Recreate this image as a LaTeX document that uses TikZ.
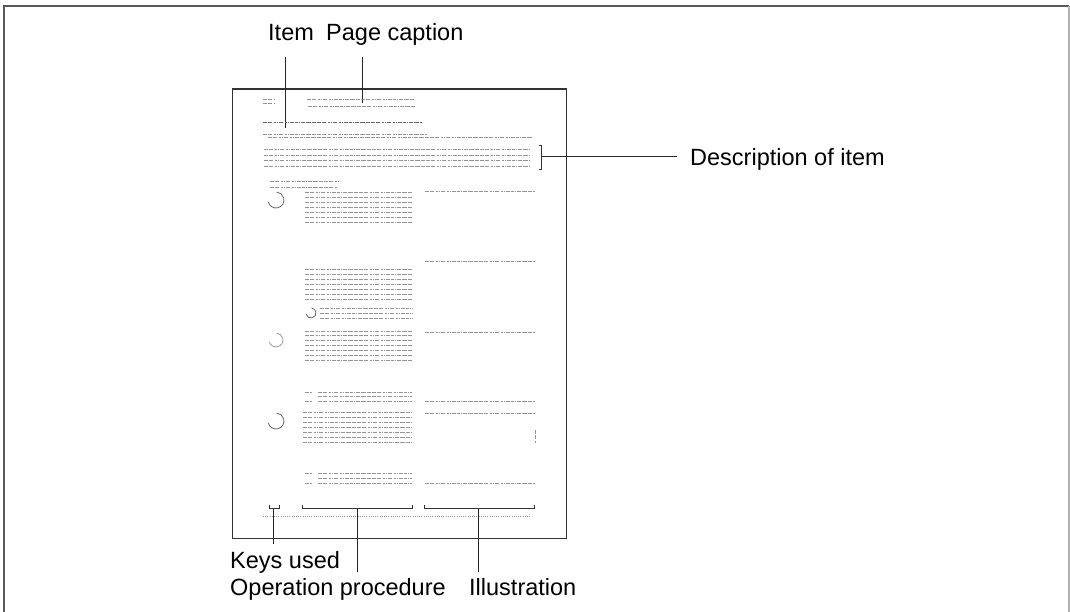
\documentclass[tikz,border=0pt]{standalone}
\usepackage{fontspec}
\setmainfont{Liberation Sans}
\begin{document}
\begin{tikzpicture}[x=1pt,y=-1pt,
  lbl/.style={anchor=base west,inner sep=0pt,font=\fontsize{23.5}{28}\selectfont},
  leader/.style={line width=1pt,black!85},
  pageframe/.style={draw,line width=1.4pt,black!80},
  frame/.style={line width=1.6pt,black!65},
  greek/.style={black!42,line width=0.9pt,dash pattern=on 2.5pt off 0.7pt on 1.2pt off 0.9pt on 4pt off 1.5pt},
  greekdark/.style={greek,black!60},
  brk/.style={line width=1pt,black!80},
  keyarc/.style={line width=0.8pt,black!60}]
\useasboundingbox (0,0) rectangle (1070,612);
% outer frame
\draw[frame] (4,612) -- (4,6) -- (1069,6);
\draw[frame,black!30] (1069,6) -- (1069,612);
% page
\node[pageframe,anchor=north west,minimum width=334,minimum height=449.5,inner sep=0pt] (page) at (232,88.5) {};
% labels
\node[lbl] (item) at (268,41) {Item};
\node[lbl] (caption) at (326,41) {Page caption};
\node[lbl] (desc) at (690,166) {Description of item};
\node[lbl] (keys) at (230,568) {Keys used};
\node[lbl] (oper) at (230,595) {Operation procedure};
\node[lbl] (illus) at (469,595) {Illustration};
% leader coordinates
\coordinate (itemA) at (285.5,57);   \coordinate (itemB) at (285.5,128);
\coordinate (capA) at (362,57);      \coordinate (capB) at (362,103);
\coordinate (descA) at (541.5,157);  \coordinate (descB) at (677,157);
\coordinate (keysA) at (273.5,508);  \coordinate (keysB) at (273.5,544);
\coordinate (operA) at (357,508);    \coordinate (operB) at (357,572);
\coordinate (illA) at (478.5,508);   \coordinate (illB) at (478.5,572);
\draw[leader] (itemA) -- (itemB);
\draw[leader] (capA) -- (capB);
\draw[leader] (descA) -- (descB);
\draw[leader] (keysA) -- (keysB);
\draw[leader] (operA) -- (operB);
\draw[leader] (illA) -- (illB);
% brackets
\draw[brk] (538.5,146) -- (541.5,146) -- (541.5,170) -- (538.5,170);
\draw[brk] (269,505) -- (269,508) -- (279,508) -- (279,505);
\draw[brk] (302,505) -- (302,508) -- (412,508) -- (412,505);
\draw[brk] (424,505) -- (424,508) -- (534,508) -- (534,505);
% greeked page text
\draw[greek] (263,99) -- (275,99);
\draw[greek] (263,103) -- (275,103);
\draw[greek] (307,99.5) -- (415,99.5);
\draw[greek] (308,106.5) -- (415,106.5);
\draw[greekdark] (263,122) -- (422,122);
\draw[greek] (263,134) -- (427,134);
\draw[greek] (268,137.5) -- (532,137.5);
\foreach \y in {149,155,160.5,166} \draw[greek] (264,\y) -- (530,\y);
\draw[greek] (270,181) -- (340,181);
\draw[greek] (270,187) -- (338,187);
\foreach \y in {192,197,202,207,212,217,222.5} \draw[greek] (305,\y) -- (412,\y);
\foreach \y in {191,261,332,401,413,483} \draw[greek] (425,\y) -- (535,\y);
\foreach \y in {269,274,279,284,289,294,299} \draw[greek] (305,\y) -- (412,\y);
\foreach \y in {308,313,318} \draw[greek] (320,\y) -- (412,\y);
\foreach \y in {331,335.5,340,345,350,355,360} \draw[greek] (305,\y) -- (412,\y);
\foreach \y in {392,396,401} \draw[greek] (318,\y) -- (412,\y);
\foreach \y in {392,401} \draw[greek] (305,\y) -- (312,\y);
\foreach \y in {412,417,422,427,432,437,442} \draw[greek] (303,\y) -- (412,\y);
\foreach \y in {473,478,483} \draw[greek] (318,\y) -- (412,\y);
\foreach \y in {473,483} \draw[greek] (305,\y) -- (312,\y);
\draw[greek] (535,430) -- (535,443);
\draw[greek,dash pattern=on 1pt off 1.2pt] (263,516) -- (530,516);
% key symbols
\coordinate (k1) at (276,200);
\coordinate (k2) at (311,313);
\coordinate (k3) at (276,340);
\coordinate (k4) at (276,421);
\draw[keyarc] ([shift={(195:8pt)}]k1) arc[start angle=195,end angle=445,radius=8pt];
\draw[keyarc] ([shift={(195:5pt)}]k2) arc[start angle=195,end angle=445,radius=5pt];
\draw[keyarc,black!40] ([shift={(195:7pt)}]k3) arc[start angle=195,end angle=445,radius=7pt];
\draw[keyarc] ([shift={(195:8pt)}]k4) arc[start angle=195,end angle=445,radius=8pt];
\end{tikzpicture}
\end{document}
